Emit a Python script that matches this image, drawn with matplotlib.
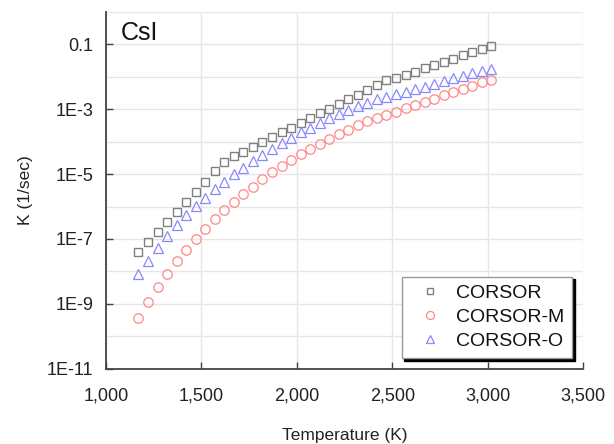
import numpy as np
import matplotlib
matplotlib.use('Agg')
import matplotlib.pyplot as plt
from matplotlib.ticker import FixedLocator, NullFormatter

plt.rcParams['font.family'] = ['Liberation Sans', 'DejaVu Sans']

# temperature (K)
temp = [1170, 1220, 1270, 1320, 1370, 1420, 1470, 1520, 1570, 1620,
        1670, 1720, 1770, 1820, 1870, 1920, 1970, 2020, 2070, 2120,
        2170, 2220, 2270, 2320, 2370, 2420, 2470, 2520, 2570, 2620,
        2670, 2720, 2770, 2820, 2870, 2920, 2970, 3020]

# log10 of K (1/sec)
log_corsor = [-7.39, -7.09, -6.78, -6.48, -6.17, -5.86, -5.54, -5.24, -4.92, -4.63,
              -4.45, -4.31, -4.16, -4.01, -3.86, -3.72, -3.58, -3.43, -3.29, -3.13,
              -2.99, -2.85, -2.70, -2.56, -2.42, -2.27, -2.11, -2.06, -1.96, -1.85,
              -1.75, -1.66, -1.55, -1.45, -1.35, -1.26, -1.16, -1.05]
log_corsor_m = [-9.42, -8.95, -8.49, -8.08, -7.69, -7.34, -7.00, -6.68, -6.38, -6.12,
                -5.87, -5.62, -5.39, -5.16, -4.95, -4.75, -4.57, -4.39, -4.23, -4.08,
                -3.93, -3.78, -3.65, -3.49, -3.37, -3.28, -3.17, -3.08, -2.98, -2.88,
                -2.78, -2.68, -2.57, -2.48, -2.38, -2.28, -2.18, -2.10]
log_corsor_o = [-8.08, -7.67, -7.27, -6.91, -6.58, -6.27, -5.98, -5.73, -5.46, -5.24,
                -5.00, -4.81, -4.60, -4.42, -4.23, -4.06, -3.88, -3.72, -3.58, -3.43,
                -3.29, -3.16, -3.03, -2.91, -2.81, -2.70, -2.62, -2.54, -2.47, -2.38,
                -2.31, -2.23, -2.15, -2.06, -1.97, -1.89, -1.82, -1.76]

ytick_vals = [1e-11, 1e-9, 1e-7, 1e-5, 1e-3, 1e-1]
ytick_labels = ['1E-11', '1E-9', '1E-7', '1E-5', '1E-3', '0.1']
xtick_vals = [1000, 1500, 2000, 2500, 3000, 3500]
xtick_labels = ['1,000', '1,500', '2,000', '2,500', '3,000', '3,500']

fig = plt.figure(figsize=(6.14, 4.44), dpi=100)
ax = fig.add_axes([0.1726, 0.169, 0.777, 0.805])

ax.plot(temp, 10 ** np.array(log_corsor), 's', ms=5.8, mfc='none', mec='#808080', mew=1.0,
        label='CORSOR', zorder=3)
ax.plot(temp, 10 ** np.array(log_corsor_m), 'o', ms=6.8, mfc='none', mec='#ff8888', mew=0.9,
        label='CORSOR-M', zorder=3)
ax.plot(temp, 10 ** np.array(log_corsor_o), '^', ms=6.8, mfc='none', mec='#8888ff', mew=0.9,
        label='CORSOR-O', zorder=3)

ax.set_yscale('log')
ax.set_ylim(1e-11, 1)
ax.set_xlim(1000, 3500)

ax.yaxis.set_major_locator(FixedLocator(ytick_vals))
ax.set_yticklabels(ytick_labels)
ax.yaxis.set_minor_locator(FixedLocator([1e-10, 1e-8, 1e-6, 1e-4, 1e-2, 1]))
ax.yaxis.set_minor_formatter(NullFormatter())
ax.set_xticks(xtick_vals)
ax.set_xticklabels(xtick_labels)

ax.grid(True, which='both', axis='y', color='#e6e6e6', lw=1.0, zorder=0)
ax.grid(True, which='major', axis='x', color='#e6e6e6', lw=1.0, zorder=0)
ax.set_axisbelow(True)

for s in ['top', 'right']:
    ax.spines[s].set_visible(False)
for s in ['left', 'bottom']:
    ax.spines[s].set_color('#444444')
    ax.spines[s].set_linewidth(1.3)

ax.tick_params(axis='both', which='major', direction='in', length=5, width=1.0,
               color='#444444', labelsize=13, labelcolor='#222222')
ax.tick_params(axis='x', pad=13)
ax.tick_params(axis='y', pad=9)
ax.tick_params(axis='y', which='minor', length=0)

ax.set_xlabel('Temperature (K)', fontsize=12.5, color='#222222', labelpad=17)
ax.set_ylabel('K (1/sec)', fontsize=12.5, color='#222222', labelpad=10)

ax.text(0.03, 0.974, 'CsI', transform=ax.transAxes, fontsize=18, va='top', ha='left',
        color='#111111')

leg = ax.legend(loc='lower right', bbox_to_anchor=(0.977, 0.031), borderaxespad=0,
                fontsize=14, fancybox=False, edgecolor='#999999', framealpha=1,
                labelspacing=0.33, handlelength=2.1, handletextpad=0.3, borderpad=0.4,
                markerscale=0.85,
                shadow={'facecolor': 'black', 'edgecolor': 'black', 'alpha': 1})
leg.get_frame().set_linewidth(1.0)
for t in leg.get_texts():
    t.set_color('#111111')

fig.savefig('out.png', dpi=100)
